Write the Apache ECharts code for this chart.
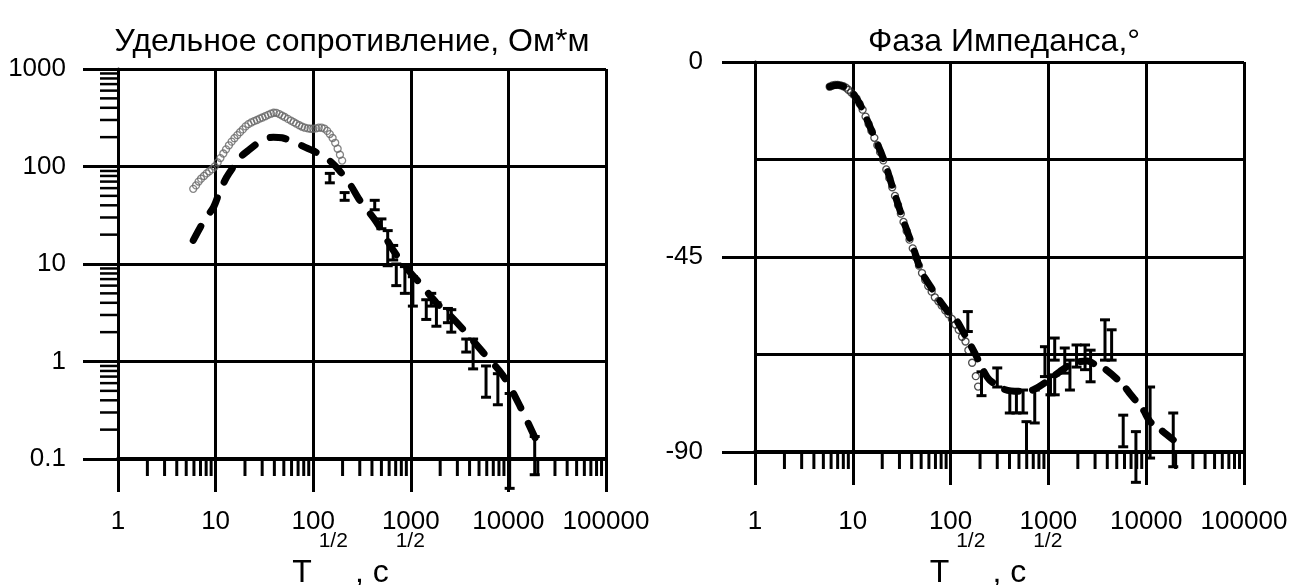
<!DOCTYPE html>
<html><head><meta charset="utf-8">
<script src="https://cdn.jsdelivr.net/npm/echarts@6/dist/echarts.min.js"></script>
<style>html,body{margin:0;padding:0;background:#fff}#c{width:1295px;height:585px}</style>
</head><body><div id="c"></div>
<script>
// ---- data ----
const xTickLabels = ['1','10','100','1000','10000','100000'];
const rhoTickLabels = ['0.1','1','10','100','1000'];
const phaseTickLabels = ['0','-45','-90'];

// Resistivity: observed (circles)
const rhoObsT = [5.9,6.3,6.7,7.1,7.6,8.1,8.6,9.2,9.8,10.5,11.2,12,12.8,13.7,14.6,15.6,16.7,17.8,19,20.3,21.7,23.2,24.8,26.5,28.3,30.2,32.3,34.5,36.9,39.4,42,45,48,51,55,59,63,67,72,77,82,88,94,100,107,114,122,130,139,148,158,168,178,188,198];
const rhoObsV = [59,64,70,75,80,85,89,94,100,110,122,136,150,165,180,195,210,225,240,258,272,283,292,300,310,318,328,338,348,356,355,345,333,322,308,296,285,275,265,256,250,246,244,244,246,250,250,245,232,215,196,175,152,132,115];
// Resistivity: model curve (dashed)
const rhoModT = [5.9,7,8,9.5,11,13,15,18,22.4,28,33,39,48,62,80,100,117,150,187,240,300,444,658,975,1230,1830,2500,3430,5500,8800,13000,19000];
const rhoModV = [17.5,24,30,38,55,78,97,125,150,178,193,200,197,181,160,145,133,113,90,65,45,27,13.9,8.3,6.4,4.0,3.0,2.14,1.24,0.72,0.356,0.16];
// Resistivity: error bars [T, low, high]
const rhoErrT  = [148,210,427,500,580,660,710,870,1050,1440,1620,1830,2400,2600,3700,4350,5900,7800,10300,18600];
const rhoErrLo = [68,45,36,23,9.6,11,6,5,3.7,2.7,3.7,2.3,2.5,2.0,1.25,0.84,0.43,0.36,0.05,0.069];
const rhoErrHi = [85,54,45,29,22,15.5,10,9.4,7.4,4.3,5,4,3.5,3.4,1.7,1.7,0.9,0.75,0.47,0.17];

// Phase: observed (circles)
const phObsT = [5.8,6.2,6.6,7,7.5,8,8.5,9,9.6,10.2,10.9,11.7,12.6,13.5,14.5,15.5,16.6,17.8,19,20.5,22,23.6,25.3,27,29,31,33,35.5,38,41,44,47.5,51,55,59,64,69,75,81,88,95,103,112,121,131,142,152,166,181,191];
const phObsV = [-5.7,-5.4,-5.3,-5.3,-5.4,-5.6,-5.9,-6.4,-7,-7.6,-8.4,-9.6,-11,-12.6,-14.3,-15.9,-17.5,-19.2,-20.8,-22.7,-24.8,-26.8,-28.9,-30.9,-33,-35,-36.9,-39,-41,-43,-45,-47,-48.7,-50.3,-51.7,-53,-54.3,-55.2,-56.2,-57.3,-58.2,-59.3,-60.6,-61.8,-63.4,-64.5,-66.5,-69.4,-72.5,-74.9];
// Phase: model curve (dashed)
const phModT = [5.8,7,8.5,10,12,15.5,20.7,26,33,42,50,61,77,94,114,140,177,220,251,350,500,690,955,1300,1790,2500,3100,3930,5790,6800,9330,10960,14900,18900];
const phModV = [-5.7,-5.3,-5.9,-7.2,-10,-15.7,-22.5,-29.5,-36.7,-43.2,-48.3,-51.5,-55,-57.6,-59.5,-63,-67.2,-71.5,-73.4,-75.5,-76,-75.7,-73.8,-71.5,-69.5,-69,-70,-71.1,-74.5,-76.5,-80.3,-83,-85.3,-87.2];
// Phase: error bars
const phErrT  = [150,207,300,403,471,551,597,725,922,1050,1160,1160,1470,1660,1940,2370,2700,3790,4430,5820,7850,10960,18900];
const phErrLo = [-62.2,-77,-75,-81,-81,-81,-90,-83.3,-72.6,-76.8,-68.8,-76.8,-71.8,-75.7,-70.4,-71,-73.8,-68.8,-68.8,-88.8,-97,-91.4,-93.4];
const phErrHi = [-57.6,-71.5,-70.6,-75.7,-75.7,-75.7,-83,-75.7,-65.7,-72.6,-63.7,-72.2,-66,-68.8,-65.3,-65.3,-66.5,-59.5,-61.8,-81.5,-85.3,-75,-81];

// ---- helpers ----
const zip = (a, b) => a.map((v, i) => [v, b[i]]);
const zip3 = (a, b, c) => a.map((v, i) => [v, b[i], c[i]]);
function logMinor(lo, hi) { // minor tick values 2..9 x 10^k
  const out = [];
  for (let k = Math.log10(lo); k < Math.log10(hi); k++) for (let m = 2; m <= 9; m++) out.push(m * Math.pow(10, k));
  return out;
}
const FONT = '"Liberation Sans", Arial, sans-serif';
const BLACK = '#000';

function errBarRender(params, api) {
  const x = api.value(0), lo = api.value(1), hi = api.value(2);
  const a = api.coord([x, lo]), b = api.coord([x, hi]);
  const st = { stroke: BLACK, lineWidth: 3 };
  return { type: 'group', children: [
    { type: 'line', shape: { x1: a[0], y1: a[1], x2: b[0], y2: b[1] }, style: st },
    { type: 'line', shape: { x1: a[0] - 5, y1: a[1], x2: a[0] + 5, y2: a[1] }, style: st },
    { type: 'line', shape: { x1: b[0] - 5, y1: b[1], x2: b[0] + 5, y2: b[1] }, style: st }
  ]};
}
function xMinorRender(params, api) {
  const p = api.coord([api.value(0), api.value(1)]);
  return { type: 'line', shape: { x1: p[0], y1: p[1], x2: p[0], y2: p[1] + 17 }, style: { stroke: BLACK, lineWidth: 3 } };
}
function yMinorRender(params, api) {
  const p = api.coord([api.value(0), api.value(1)]);
  return { type: 'line', shape: { x1: p[0] - 18, y1: p[1], x2: p[0], y2: p[1] }, style: { stroke: BLACK, lineWidth: 2.5 } };
}

const axisName = '{t|T}{s|1/2}{t|, c}{s|1/2}';
const nameStyle = { rich: {
  t: { fontSize: 32, fontFamily: FONT, color: BLACK, verticalAlign: 'bottom', lineHeight: 58 },
  s: { fontSize: 21, fontFamily: FONT, color: BLACK, verticalAlign: 'top', lineHeight: 58, padding: [0, 7, 0, 7] }
}};

function logXAxis(gi, labelMargin, nameGap) {
  return {
    type: 'log', gridIndex: gi, logBase: 10, min: 1, max: 100000, splitNumber: 5,
    name: axisName, nameLocation: 'middle', nameGap: nameGap, nameTextStyle: nameStyle, nameMoveOverlap: false,
    axisLine: { show: true, onZero: false, lineStyle: { color: BLACK, width: 4 } },
    axisTick: { show: true, length: 33, lineStyle: { color: BLACK, width: 3 } },
    axisLabel: { margin: labelMargin, fontSize: 26, fontFamily: FONT, color: BLACK,
      formatter: v => xTickLabels[Math.round(Math.log10(v))] },
    splitLine: { show: true, lineStyle: { color: BLACK, width: 3 } },
    minorTick: { show: false }
  };
}

const option = {
  animation: false,
  backgroundColor: '#fff',
  title: [
    { text: 'Удельное сопротивление, Ом*м', left: 347, top: 21, textAlign: 'center',
      textStyle: { fontSize: 32, fontWeight: 'normal', fontFamily: FONT, color: BLACK } },
    { text: 'Фаза Импеданса,°', left: 999, top: 21, textAlign: 'center',
      textStyle: { fontSize: 32, fontWeight: 'normal', fontFamily: FONT, color: BLACK } }
  ],
  grid: [
    { left: 118, top: 69, width: 488, height: 390, containLabel: false, outerBoundsMode: 'none' },
    { left: 755, top: 62, width: 489, height: 390, containLabel: false, outerBoundsMode: 'none' }
  ],
  xAxis: [ logXAxis(0, 50, 72), logXAxis(1, 57, 79) ],
  yAxis: [
    { type: 'log', gridIndex: 0, logBase: 10, min: 0.1, max: 1000, splitNumber: 4,
      axisLine: { show: true, onZero: false, lineStyle: { color: BLACK, width: 3 } },
      axisTick: { show: true, length: 35, lineStyle: { color: BLACK, width: 3 } },
      axisLabel: { margin: 52, fontSize: 26, fontFamily: FONT, color: BLACK,
        formatter: v => rhoTickLabels[Math.round(Math.log10(v)) + 1] },
      splitLine: { show: true, lineStyle: { color: BLACK, width: 3 } } },
    { type: 'value', gridIndex: 1, min: -90, max: 0, interval: 45,
      axisLine: { show: true, onZero: false, lineStyle: { color: BLACK, width: 3 } },
      axisTick: { show: true, length: 33, lineStyle: { color: BLACK, width: 3 } },
      axisLabel: { margin: 52, fontSize: 26, fontFamily: FONT, color: BLACK,
        formatter: v => phaseTickLabels[Math.round(-v / 45)] },
      splitLine: { show: true, lineStyle: { color: BLACK, width: 3 } } },
    { type: 'value', gridIndex: 1, min: -90, max: 0, interval: 22.5,
      axisLine: { show: false }, axisTick: { show: false }, axisLabel: { show: false },
      splitLine: { show: true, lineStyle: { color: BLACK, width: 3 } } }
  ],
  series: [
    { type: 'scatter', xAxisIndex: 0, yAxisIndex: 0, data: zip(rhoObsT, rhoObsV), symbol: 'circle', symbolSize: 7,
      itemStyle: { color: 'rgba(255,255,255,0)', borderColor: '#666', borderWidth: 1.3 }, z: 3 },
    { type: 'line', xAxisIndex: 0, yAxisIndex: 0, data: zip(rhoModT, rhoModV), showSymbol: false, smooth: 0.3,
      lineStyle: { color: BLACK, width: 7, type: [16, 17], cap: 'round' }, z: 4 },
    { type: 'custom', xAxisIndex: 0, yAxisIndex: 0, data: zip3(rhoErrT, rhoErrLo, rhoErrHi), renderItem: errBarRender,
      encode: { x: 0, y: [1, 2] }, clip: false, z: 5 },
    { type: 'custom', xAxisIndex: 0, yAxisIndex: 0, data: logMinor(1, 100000).map(v => [v, 0.1]), renderItem: xMinorRender, clip: false, z: 2 },
    { type: 'custom', xAxisIndex: 0, yAxisIndex: 0, data: logMinor(0.1, 1000).map(v => [1, v]), renderItem: yMinorRender, clip: false, z: 2 },

    { type: 'scatter', xAxisIndex: 1, yAxisIndex: 1, data: zip(phObsT, phObsV), symbol: 'circle', symbolSize: 7,
      itemStyle: { color: 'rgba(255,255,255,0)', borderColor: '#222', borderWidth: 1.3 }, z: 3 },
    { type: 'line', xAxisIndex: 1, yAxisIndex: 1, data: zip(phModT, phModV), showSymbol: false, smooth: 0.3,
      lineStyle: { color: BLACK, width: 7, type: [14, 14], cap: 'round' }, z: 4 },
    { type: 'custom', xAxisIndex: 1, yAxisIndex: 1, data: zip3(phErrT, phErrLo, phErrHi), renderItem: errBarRender,
      encode: { x: 0, y: [1, 2] }, clip: false, z: 5 },
    { type: 'custom', xAxisIndex: 1, yAxisIndex: 1, data: logMinor(1, 100000).map(v => [v, -90]), renderItem: xMinorRender, clip: false, z: 2 }
  ]
};
const chart = echarts.init(document.getElementById('c'), null, { renderer: 'canvas' });
chart.setOption(option);
</script></body></html>
